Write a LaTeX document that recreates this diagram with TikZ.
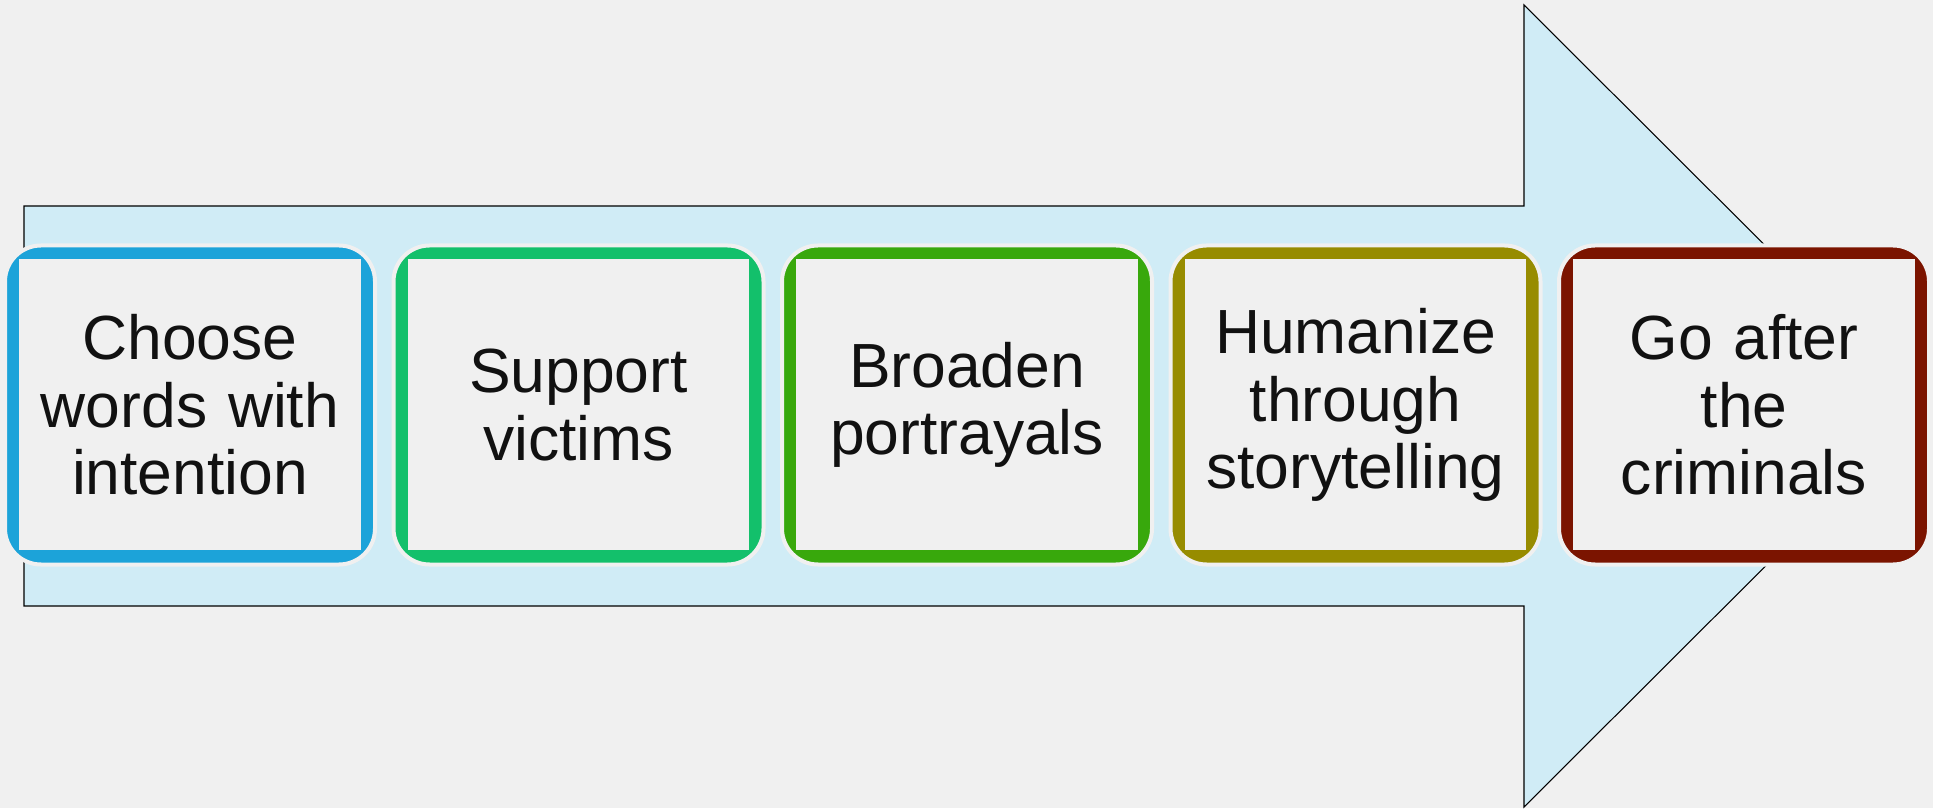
\documentclass[tikz,border=0pt]{standalone}
\usepackage{fontspec}
\setmainfont{Liberation Sans}
\usetikzlibrary{positioning}
\definecolor{pagebg}{HTML}{F0F0F0}
\definecolor{arrowblue}{HTML}{D0ECF6}
\definecolor{stepblue}{HTML}{1CA3D9}
\definecolor{stepgreen}{HTML}{13C06B}
\definecolor{steplime}{HTML}{38A80C}
\definecolor{stepolive}{HTML}{978C00}
\definecolor{stepred}{HTML}{7B1400}
\definecolor{inktext}{HTML}{111111}
\tikzset{
    % Components
    stepbox/.style = {
        rectangle, rounded corners=0.72cm, draw=pagebg, line width=0.08cm,
        minimum width=7.4cm, minimum height=6.38cm, outer sep=0pt, inner sep=0pt,
        text width=6.6cm, align=center, text=inktext,
        font=\fontsize{35.5pt}{38.4pt}\selectfont,
        % light panel inside the coloured frame
        path picture={
            \fill[pagebg, sharp corners] ([shift={(0.28,-0.28)}]path picture bounding box.north west)
                rectangle ([shift={(-0.29,0.29)}]path picture bounding box.south east);
        }
    },
    % Background arrow
    bigarrow/.style = {fill=arrowblue, draw=black, line width=0.6pt}
}

\begin{document}
\begin{tikzpicture}[node distance=0.37cm]
    \path[use as bounding box, fill=pagebg] (0,0) rectangle (38.66,16.16);

    \draw[bigarrow] (0.48,12.04) -- (30.48,12.04) -- (30.48,16.06) -- (38.52,8.04)
        -- (30.48,0.02) -- (30.48,4.04) -- (0.48,4.04) -- cycle;

    \node (choose) [stepbox, fill=stepblue] at (3.80,8.06) {Choose\\words with\\intention};
    \node (support) [stepbox, fill=stepgreen, right=of choose] {Support\\victims};
    \node (broaden) [stepbox, fill=steplime, right=of support] {Broaden\\portrayals};
    \node (humanize) [stepbox, fill=stepolive, right=of broaden] {Humanize\\through\\storytelling};
    \node (criminals) [stepbox, fill=stepred, right=of humanize] {Go after\\the\\criminals};
\end{tikzpicture}
\end{document}
